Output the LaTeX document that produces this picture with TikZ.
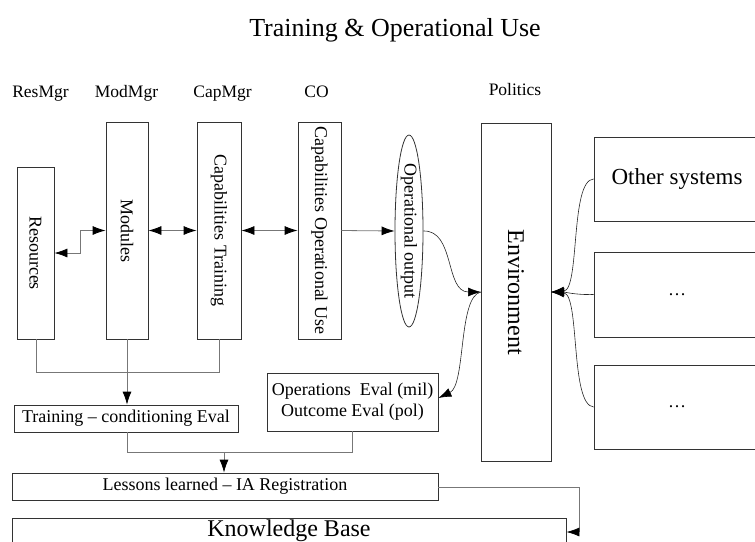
\documentclass[tikz,border=0pt]{standalone}
\usepackage{fontspec}
\setmainfont{Liberation Serif}
\usetikzlibrary{arrows.meta,shapes.geometric}
\definecolor{boxc}{HTML}{333333}
\definecolor{linec}{HTML}{777777}
\tikzset{
  box/.style={draw=boxc,line width=0.8pt,inner sep=0pt,font=\fontsize{18}{21}\selectfont},
  conn/.style={draw=linec,line width=0.8pt},
  curv/.style={draw=black!85,line width=0.6pt},
  >={Latex[length=13pt,width=9pt]},
  myarr/.style={-{Latex[length=13pt,width=9pt,black]}},
  mydarr/.style={{Latex[length=13pt,width=9pt,black]}-{Latex[length=13pt,width=9pt,black]}},
  lbl/.style={anchor=base,inner sep=0pt,font=\fontsize{17.5}{20}\selectfont}
}
\newcommand{\vtext}[1]{\rotatebox{-90}{#1}}
\begin{document}
\begin{tikzpicture}[x=1pt,y=-1pt]
\useasboundingbox (0,0) rectangle (755,541);
% title and column labels
\node[anchor=base,inner sep=0pt,font=\fontsize{26}{30}\selectfont] (title) at (395,36) {Training \& Operational Use};
\node[lbl] (l1) at (40.5,97) {ResMgr};
\node[lbl] (l2) at (126.5,97) {ModMgr};
\node[lbl] (l3) at (222.5,97) {CapMgr};
\node[lbl] (l4) at (316.5,97) {CO};
\node[lbl] (l5) at (515,95) {Politics};
% vertical boxes
\node[box,minimum width=37pt,minimum height=172pt] (res) at (35.5,253) {\vtext{Resources}};
\node[box,minimum width=42pt,minimum height=217pt] (mod) at (127,230.5) {\vtext{Modules}};
\node[box,minimum width=44pt,minimum height=217pt] (capt) at (219,230.5) {\vtext{Capabilities Training}};
\node[box,minimum width=43pt,minimum height=217pt] (capo) at (319.5,230.5) {\vtext{Capabilities Operational Use}};
\node[box,ellipse,minimum width=28pt,minimum height=192pt] (opout) at (409,231) {\vtext{Operational output}};
\node[box,minimum width=70pt,minimum height=338pt,font=\fontsize{24}{28}\selectfont] (env) at (516,292) {\vtext{Environment}};
% other systems
\node[box,minimum width=166pt,minimum height=84pt,font=\fontsize{23}{26}\selectfont] (oth1) at (677,179) {Other systems};
\node[box,minimum width=166pt,minimum height=85pt] (oth2) at (677,294.5) {\ldots};
\node[box,minimum width=166pt,minimum height=84pt] (oth3) at (677,407) {\ldots};
% evaluation boxes
\node[box,minimum width=224pt,minimum height=27pt] (tce) at (126,418.5) {Training -- conditioning Eval};
\node[box,minimum width=171pt,minimum height=58pt,align=center] (ope) at (352.5,402) {Operations~~Eval (mil)\\Outcome Eval (pol)};
\node[box,minimum width=426pt,minimum height=27pt] (les) at (225,486.5) {Lessons learned -- IA Registration};
\node[box,minimum width=554pt,minimum height=26pt,font=\fontsize{24}{28}\selectfont] (kb) at (289,531) {Knowledge Base};
% connectors top row
\coordinate (r1) at (80,253);
\coordinate (r2) at (80,230.5);
\draw[conn,mydarr] (res.east |- r1) -- (r1) -- (r2) -- (mod.west);
\draw[conn,mydarr] (mod.east) -- (capt.west);
\draw[conn,mydarr] (capt.east) -- (capo.west);
\draw[conn,myarr] (capo.east) -- (opout.west);
% curves to/from environment
\coordinate (ew) at (481,292);
\coordinate (ee) at (551,292);
\draw[curv,myarr] (opout.east) .. controls (455,230) and (445,292) .. (ew);
\draw[curv,myarr] (ew) .. controls (458,296) and (466,385) .. (ope.east |- 0,398);
\draw[curv,myarr] (oth1.west) .. controls (570,180) and (580,290) .. (ee);
\draw[curv,myarr] (oth2.west) .. controls (575,295) and (565,292) .. (ee);
\draw[curv,myarr] (oth3.west) .. controls (570,405) and (580,294) .. (ee);
% bottom connectors
\coordinate (b1) at (36,372);
\coordinate (b2) at (219,372);
\draw[conn] (36,339) -- (b1) -- (b2) -- (capt.south);
\draw[conn,myarr] (mod.south) -- (tce.north -| mod.south);
\coordinate (c1) at (127,452);
\coordinate (c2) at (352,452);
\coordinate (c3) at (224,452);
\draw[conn] (tce.south -| c1) -- (c1) -- (c2) -- (ope.south -| c2);
\draw[conn,myarr] (c3) -- (les.north -| c3);
\coordinate (d1) at (579,487);
\coordinate (d2) at (579,532);
\draw[conn,myarr] (les.east |- d1) -- (d1) -- (d2) -- (kb.east |- d2);
\end{tikzpicture}
\end{document}
